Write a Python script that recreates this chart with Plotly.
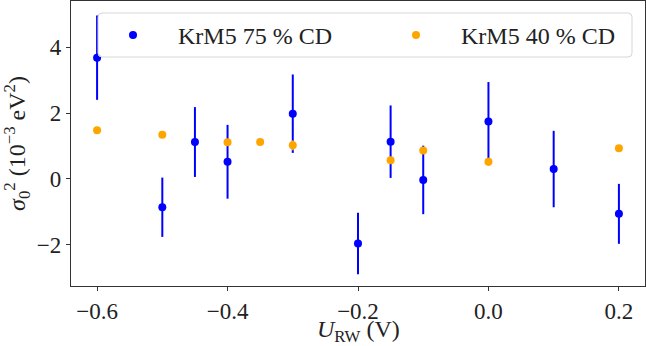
import plotly.graph_objects as go

# Data
x_75 = [-0.6, -0.5, -0.45, -0.4, -0.3, -0.2, -0.15, -0.1, 0.0, 0.1, 0.2]
y_75 = [3.68, -0.86, 1.12, 0.52, 1.98, -1.96, 1.13, -0.03, 1.74, 0.30, -1.06]
e_75 = [1.28, 0.90, 1.06, 1.12, 1.19, 0.93, 1.10, 1.04, 1.20, 1.16, 0.91]

x_40 = [-0.6, -0.5, -0.4, -0.35, -0.3, -0.15, -0.1, 0.0, 0.2]
y_40 = [1.48, 1.34, 1.11, 1.12, 1.02, 0.57, 0.86, 0.52, 0.93]
e_40 = [0.08, 0.08, 0.08, 0.08, 0.15, 0.10, 0.08, 0.12, 0.08]

x_ticks = [-0.6, -0.4, -0.2, 0.0, 0.2]
y_ticks = [-2, 0, 2, 4]

FONT = "Liberation Serif"
W, H = 646, 346
ML, MR, MT, MB = 71, 1, 1, 60
PW, PH = W - ML - MR, H - MT - MB


def px_x(p):
    return (p - ML) / PW


def px_y(p):
    return (H - MB - p) / PH


fig = go.Figure()
fig.add_trace(go.Scatter(
    x=x_75, y=y_75, mode="markers", name="KrM5 75 % CD", legend="legend",
    marker=dict(color="#0000ff", size=8),
    error_y=dict(type="data", array=e_75, color="#0000ff", thickness=2, width=0),
))
fig.add_trace(go.Scatter(
    x=x_40, y=y_40, mode="markers", name="KrM5 40 % CD", legend="legend2",
    marker=dict(color="#ffa500", size=8),
    error_y=dict(type="data", array=e_40, color="#ffa500", thickness=2, width=0),
))

axis_common = dict(
    showgrid=False, zeroline=False, showline=True, linecolor="#333333",
    linewidth=1.2, mirror=True, ticks="outside", ticklen=4, tickwidth=1,
    tickcolor="#333333", tickfont=dict(family=FONT, size=23, color="#222222"),
)

# legend frame (rounded rectangle, semi-transparent like matplotlib)
bx0, bx1, by0, by1 = px_x(98), px_x(632), px_y(57), px_y(13)
rx, ry = 4 / PW, 4 / PH
path = (f"M {bx0+rx},{by0} L {bx1-rx},{by0} Q {bx1},{by0} {bx1},{by0+ry} "
        f"L {bx1},{by1-ry} Q {bx1},{by1} {bx1-rx},{by1} L {bx0+rx},{by1} "
        f"Q {bx0},{by1} {bx0},{by1-ry} L {bx0},{by0+ry} Q {bx0},{by0} {bx0+rx},{by0} Z")

legend_common = dict(
    orientation="h", yanchor="top", xanchor="left", y=px_y(13),
    bgcolor="rgba(0,0,0,0)", borderwidth=0, itemwidth=80,
    font=dict(family=FONT, size=24, color="#222222"),
)

fig.update_layout(
    width=W, height=H,
    margin=dict(l=ML, r=MR, t=MT, b=MB),
    paper_bgcolor="white", plot_bgcolor="white",
    font=dict(family=FONT, size=24, color="#222222"),
    showlegend=True,
    shapes=[dict(type="path", path=path, xref="paper", yref="paper",
                 fillcolor="rgba(255,255,255,0.8)", line=dict(color="#d6d6d6", width=1),
                 layer="above")],
    annotations=[dict(text="<i>U</i><sub>RW</sub> (V)", xref="paper", yref="paper",
                      x=px_x(358), y=px_y(331), xanchor="center", yanchor="middle",
                      showarrow=False, font=dict(family=FONT, size=24, color="#222222"))],
    legend=dict(x=px_x(88), **legend_common),
    legend2=dict(x=px_x(371), **legend_common),
    xaxis=dict(
        range=[-0.64, 0.24], tickvals=x_ticks, tickformat=".1f",
        **axis_common,
    ),
    yaxis=dict(
        range=[-3.25, 5.4], tickvals=y_ticks,
        title=dict(text="<i>σ</i><sub>0</sub><sup>2</sup> (10<sup>−3</sup> eV<sup>2</sup>)",
                   font=dict(family=FONT, size=24), standoff=10),
        **axis_common,
    ),
)

fig.write_html("out.html")
